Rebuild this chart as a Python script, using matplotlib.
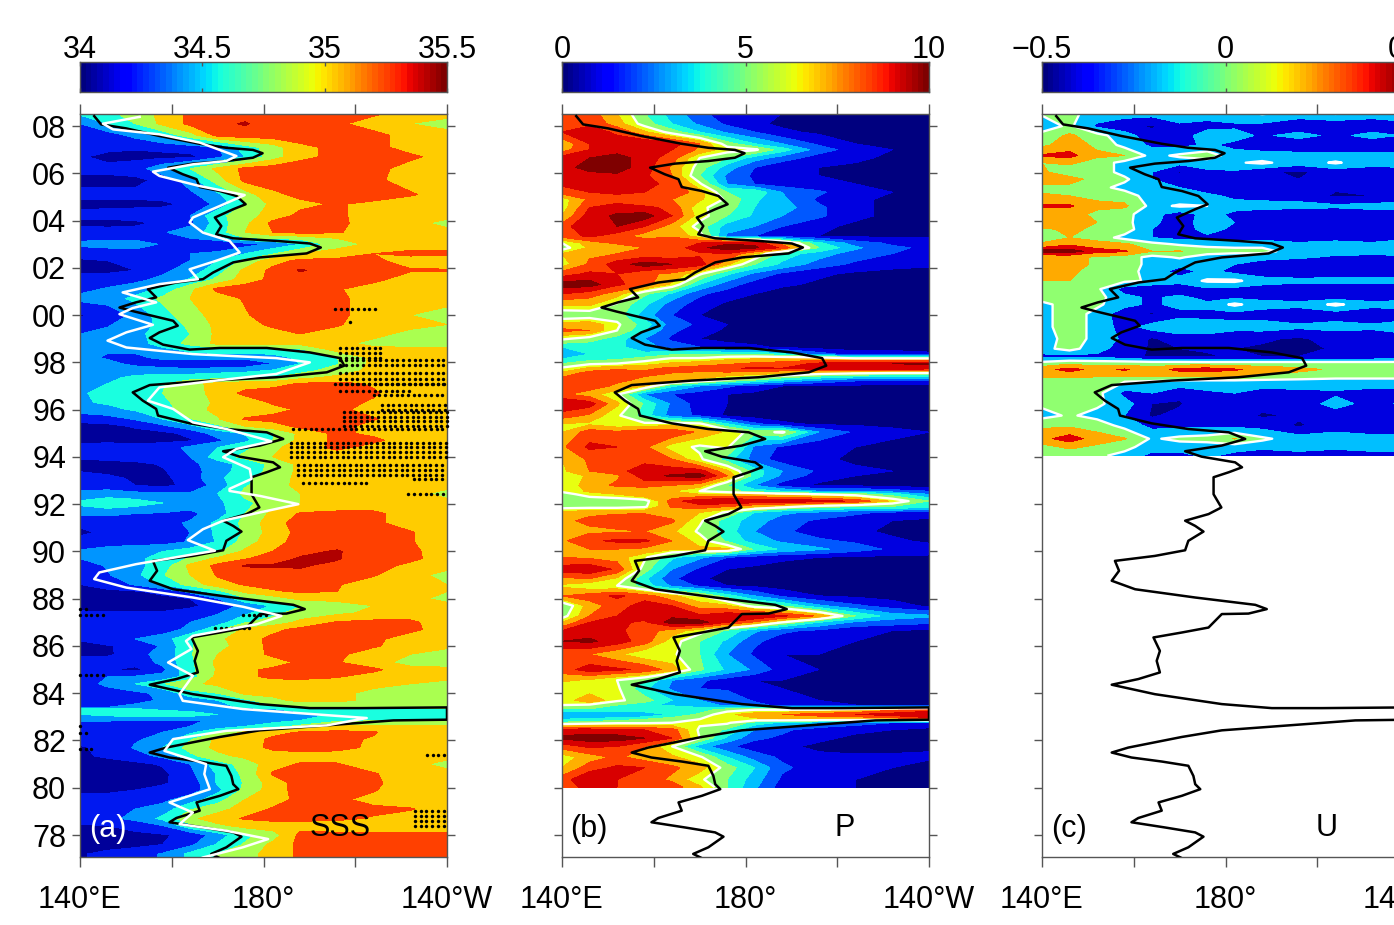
#!/usr/bin/python3
import numpy as np
import matplotlib
matplotlib.use('Agg')
import matplotlib.pyplot as plt

plt.rcParams['font.family'] = ['Liberation Sans', 'DejaVu Sans']

# longitude columns of all three fields (degrees east, 220 = 140W)
lon = [140, 146, 152, 158, 164, 170, 176, 182, 188, 196, 204, 212, 220]

# Panel (a): SSS, hundredths above 34
sss_year = [2008.55, 2008.1, 2007.6, 2007.1, 2006.7, 2006.2, 2005.7, 2005.1, 2004.7, 2004.2, 2003.9, 2003.5,
            2003.25, 2003.0, 2002.6, 2002.3, 2001.9, 2001.5, 2001.1, 2000.7, 2000.0, 1999.6, 1999.2, 1998.8,
            1998.55, 1998.2, 1997.95, 1997.65, 1997.35, 1997.1, 1996.7, 1996.3, 1996.0, 1995.6, 1995.3, 1995.0,
            1994.7, 1994.4, 1994.0, 1993.7, 1993.4, 1993.1, 1992.8, 1992.45, 1992.05, 1991.6, 1991.2, 1990.8,
            1990.4, 1990.0, 1989.7, 1989.4, 1989.0, 1988.6, 1988.3, 1988.0, 1987.7, 1987.4, 1987.0, 1986.7,
            1986.3, 1986.0, 1985.65, 1985.3, 1985.0, 1984.7, 1984.4, 1984.0, 1983.7, 1983.4, 1983.35, 1983.1,
            1982.85, 1982.6, 1982.35, 1982.05, 1981.7, 1981.35, 1981.0, 1980.6, 1980.2, 1979.9, 1979.5, 1979.1,
            1978.7, 1978.4, 1978.0, 1977.6, 1977.2, 1977.0]
sss_rows = [
    [65, 75, 90, 105, 125, 130, 130, 130, 130, 130, 125, 110, 105],
    [40, 60, 80, 105, 125, 135, 142, 130, 130, 125, 108, 100, 95],
    [25, 30, 45, 65, 90, 125, 130, 130, 130, 130, 128, 110, 105],
    [25, 25, 22, 25, 30, 38, 70, 90, 115, 125, 128, 110, 105],
    [22, 15, 15, 15, 15, 35, 60, 90, 115, 125, 130, 125, 110],
    [25, 25, 30, 55, 80, 105, 125, 130, 130, 130, 128, 110, 105],
    [15, 15, 15, 25, 50, 90, 125, 130, 130, 130, 125, 110, 105],
    [25, 25, 25, 30, 35, 55, 90, 115, 125, 130, 130, 123, 108],
    [15, 15, 15, 15, 25, 45, 80, 105, 115, 122, 115, 105, 105],
    [25, 28, 30, 35, 40, 75, 90, 110, 125, 125, 108, 105, 105],
    [15, 12, 15, 25, 35, 70, 95, 125, 128, 125, 110, 105, 95],
    [30, 30, 30, 38, 50, 70, 100, 120, 125, 122, 110, 105, 105],
    [35, 35, 35, 38, 40, 50, 78, 80, 85, 100, 105, 105, 105],
    [45, 50, 50, 38, 30, 22, 32, 45, 60, 90, 105, 110, 110],
    [25, 25, 30, 35, 40, 45, 60, 78, 100, 110, 120, 125, 125],
    [18, 20, 25, 30, 40, 60, 85, 112, 125, 125, 125, 110, 105],
    [15, 15, 20, 35, 50, 70, 105, 125, 142, 130, 125, 122, 122],
    [30, 30, 35, 45, 62, 85, 110, 125, 130, 128, 125, 110, 105],
    [35, 42, 50, 65, 95, 125, 130, 130, 128, 122, 110, 105, 105],
    [45, 50, 65, 85, 100, 110, 122, 130, 130, 125, 110, 105, 105],
    [18, 25, 45, 70, 95, 105, 118, 130, 130, 125, 110, 100, 95],
    [30, 38, 50, 65, 85, 105, 110, 125, 128, 122, 110, 105, 100],
    [40, 45, 55, 68, 80, 105, 108, 110, 120, 112, 105, 95, 90],
    [42, 45, 50, 70, 85, 105, 105, 105, 105, 105, 95, 90, 90],
    [42, 42, 45, 55, 65, 70, 72, 75, 78, 108, 105, 105, 105],
    [45, 38, 35, 45, 50, 50, 45, 50, 65, 80, 105, 105, 105],
    [45, 45, 35, 28, 22, 22, 25, 40, 60, 78, 105, 105, 105],
    [45, 50, 50, 50, 48, 52, 55, 62, 72, 90, 105, 105, 105],
    [50, 55, 65, 70, 72, 75, 78, 80, 95, 105, 105, 105, 105],
    [55, 60, 72, 78, 95, 105, 110, 112, 122, 125, 118, 105, 105],
    [58, 65, 72, 80, 90, 108, 125, 130, 130, 125, 122, 110, 105],
    [58, 62, 70, 78, 85, 105, 108, 122, 125, 125, 118, 105, 105],
    [50, 55, 62, 70, 92, 105, 108, 115, 122, 125, 112, 105, 105],
    [25, 30, 42, 60, 78, 98, 122, 125, 125, 125, 122, 105, 105],
    [15, 15, 22, 35, 55, 75, 100, 112, 125, 130, 110, 105, 105],
    [15, 15, 15, 15, 25, 50, 62, 78, 105, 125, 115, 105, 105],
    [15, 15, 15, 15, 18, 35, 55, 80, 105, 125, 125, 108, 105],
    [25, 30, 25, 30, 45, 60, 75, 95, 110, 125, 112, 105, 105],
    [22, 25, 30, 35, 40, 70, 85, 100, 108, 108, 105, 105, 105],
    [15, 15, 15, 22, 35, 50, 68, 85, 105, 105, 105, 105, 105],
    [18, 12, 12, 18, 32, 50, 70, 85, 105, 105, 105, 105, 105],
    [40, 28, 15, 15, 30, 55, 75, 90, 105, 105, 105, 105, 105],
    [30, 30, 20, 15, 25, 48, 78, 92, 105, 105, 105, 105, 105],
    [45, 48, 45, 42, 42, 60, 85, 92, 100, 105, 105, 105, 95],
    [65, 75, 70, 60, 50, 55, 75, 90, 100, 105, 105, 105, 105],
    [45, 45, 40, 38, 35, 50, 80, 105, 122, 125, 125, 110, 105],
    [25, 25, 30, 35, 42, 65, 85, 112, 128, 130, 125, 110, 105],
    [15, 25, 28, 30, 40, 65, 82, 110, 125, 130, 128, 122, 105],
    [30, 30, 30, 32, 42, 62, 88, 115, 125, 130, 130, 122, 105],
    [42, 50, 58, 60, 70, 75, 105, 120, 135, 142, 128, 125, 108],
    [40, 45, 55, 68, 82, 105, 118, 130, 142, 142, 125, 125, 110],
    [30, 42, 55, 68, 105, 125, 142, 142, 142, 135, 128, 115, 105],
    [25, 38, 55, 78, 100, 122, 128, 130, 135, 128, 122, 105, 95],
    [20, 30, 42, 62, 88, 112, 122, 125, 125, 122, 108, 105, 100],
    [15, 15, 18, 25, 45, 72, 105, 118, 122, 120, 105, 105, 100],
    [15, 12, 12, 15, 20, 40, 75, 88, 105, 105, 105, 105, 95],
    [15, 12, 12, 12, 15, 30, 45, 62, 78, 92, 100, 105, 105],
    [22, 22, 22, 22, 30, 38, 55, 75, 88, 95, 105, 105, 105],
    [25, 25, 28, 35, 40, 50, 78, 88, 105, 122, 125, 125, 105],
    [32, 35, 30, 30, 45, 75, 105, 115, 125, 130, 128, 125, 110],
    [22, 35, 40, 50, 78, 95, 112, 125, 130, 130, 125, 110, 105],
    [15, 18, 28, 42, 78, 92, 110, 125, 130, 130, 123, 108, 105],
    [15, 15, 35, 45, 78, 100, 108, 125, 128, 125, 108, 100, 90],
    [35, 35, 28, 45, 75, 105, 105, 108, 125, 122, 105, 95, 90],
    [22, 22, 15, 35, 75, 102, 115, 125, 130, 125, 125, 105, 105],
    [28, 40, 42, 45, 70, 105, 115, 125, 125, 122, 110, 105, 105],
    [30, 45, 60, 78, 95, 105, 105, 108, 112, 108, 105, 100, 95],
    [22, 30, 35, 45, 72, 80, 105, 105, 105, 105, 95, 85, 85],
    [25, 30, 35, 42, 48, 60, 75, 95, 105, 105, 95, 88, 85],
    [40, 40, 45, 48, 50, 55, 62, 72, 78, 82, 82, 85, 85],
    [60, 65, 60, 55, 50, 50, 55, 60, 70, 75, 78, 78, 78],
    [60, 65, 72, 72, 70, 60, 50, 50, 52, 62, 72, 78, 78],
    [42, 42, 40, 38, 38, 42, 48, 52, 60, 75, 78, 80, 80],
    [25, 25, 25, 32, 40, 48, 60, 72, 85, 105, 105, 105, 105],
    [25, 25, 30, 40, 55, 78, 105, 112, 122, 125, 122, 105, 105],
    [25, 30, 38, 45, 78, 105, 108, 125, 128, 125, 118, 105, 105],
    [18, 25, 42, 60, 88, 105, 110, 125, 130, 128, 115, 105, 105],
    [18, 22, 32, 45, 75, 95, 105, 108, 110, 108, 105, 105, 105],
    [15, 15, 15, 22, 40, 70, 88, 112, 122, 122, 105, 105, 95],
    [12, 12, 15, 15, 35, 62, 85, 122, 128, 128, 122, 105, 105],
    [12, 12, 15, 18, 28, 62, 82, 110, 128, 128, 125, 105, 105],
    [15, 15, 20, 25, 30, 55, 85, 110, 128, 128, 122, 105, 105],
    [30, 30, 32, 35, 50, 72, 100, 112, 125, 125, 112, 105, 105],
    [35, 38, 40, 48, 78, 92, 110, 122, 125, 125, 125, 122, 105],
    [30, 35, 45, 65, 95, 112, 122, 125, 125, 125, 118, 108, 105],
    [18, 20, 28, 40, 75, 95, 108, 112, 112, 108, 105, 105, 105],
    [12, 12, 15, 18, 25, 50, 75, 90, 125, 125, 125, 125, 125],
    [12, 12, 15, 20, 35, 62, 82, 105, 125, 125, 125, 125, 125],
    [18, 25, 30, 42, 65, 80, 95, 105, 125, 125, 125, 125, 122],
    [18, 25, 30, 42, 65, 80, 95, 105, 125, 125, 125, 125, 122],
]

# Panel (b): precipitation, tenths
p_year = [2008.55, 2008.1, 2007.75, 2007.25, 2007.0, 2006.65, 2006.25, 2005.9, 2005.55, 2005.2, 2004.9, 2004.55,
          2004.2, 2003.75, 2003.35, 2003.05, 2002.85, 2002.6, 2002.15, 2001.75, 2001.3, 2000.9, 2000.45, 2000.0,
          1999.6, 1999.35, 1999.0, 1998.65, 1998.35, 1998.15, 1997.95, 1997.75, 1997.55, 1997.25, 1997.0, 1996.65,
          1996.25, 1995.75, 1995.4, 1995.05, 1994.42, 1993.9, 1993.4, 1993.2, 1992.8, 1992.55, 1992.42, 1992.13,
          1991.9, 1991.65, 1991.3, 1990.85, 1990.45, 1990.1, 1989.75, 1989.25, 1988.85, 1988.55, 1988.12, 1987.7,
          1987.27, 1987.0, 1986.65, 1986.2, 1985.65, 1985.0, 1984.55, 1984.2, 1983.7, 1983.5, 1983.3, 1983.1,
          1982.9, 1982.75, 1982.45, 1982.1, 1981.75, 1981.3, 1980.85, 1980.35, 1980.03]
p_rows = [
    [85, 85, 70, 50, 35, 22, 15, 12, 10, 8, 8, 8, 8],
    [85, 88, 75, 55, 40, 28, 18, 12, 8, 6, 5, 5, 5],
    [90, 95, 88, 72, 55, 40, 28, 20, 12, 8, 6, 6, 6],
    [72, 90, 95, 100, 95, 80, 55, 40, 30, 18, 10, 8, 8],
    [75, 90, 95, 98, 90, 78, 65, 62, 45, 25, 15, 10, 8],
    [95, 100, 105, 95, 85, 60, 50, 35, 25, 15, 12, 8, 5],
    [95, 105, 105, 95, 78, 55, 35, 20, 12, 10, 8, 5, 5],
    [95, 95, 98, 92, 80, 50, 28, 18, 12, 10, 5, 5, 5],
    [92, 95, 95, 92, 88, 62, 30, 20, 15, 12, 10, 10, 10],
    [85, 90, 92, 90, 88, 75, 50, 48, 30, 22, 12, 10, 10],
    [65, 82, 85, 82, 80, 72, 58, 42, 32, 18, 12, 8, 5],
    [65, 90, 95, 92, 88, 62, 55, 40, 35, 22, 12, 8, 5],
    [70, 95, 102, 105, 90, 65, 50, 38, 30, 22, 12, 8, 6],
    [85, 100, 100, 90, 75, 55, 35, 30, 20, 12, 8, 5, 5],
    [85, 92, 85, 75, 78, 65, 28, 20, 15, 10, 8, 8, 8],
    [60, 75, 82, 88, 90, 90, 98, 98, 75, 42, 25, 18, 15],
    [55, 72, 72, 80, 82, 98, 105, 102, 88, 50, 32, 22, 18],
    [70, 78, 80, 82, 82, 88, 90, 70, 45, 35, 25, 20, 15],
    [65, 82, 95, 105, 100, 95, 72, 50, 38, 25, 18, 15, 12],
    [85, 92, 90, 82, 78, 62, 42, 28, 18, 12, 8, 5, 5],
    [105, 105, 92, 85, 68, 40, 25, 15, 12, 8, 5, 4, 4],
    [90, 85, 75, 52, 38, 22, 15, 10, 5, 5, 5, 5, 5],
    [72, 72, 58, 42, 25, 15, 8, 8, 6, 6, 6, 6, 6],
    [50, 52, 55, 35, 20, 10, 6, 4, 5, 5, 5, 4, 4],
    [75, 78, 62, 45, 25, 18, 10, 8, 8, 8, 5, 5, 5],
    [82, 80, 60, 40, 22, 15, 8, 6, 5, 5, 5, 5, 5],
    [62, 55, 45, 30, 18, 10, 6, 5, 5, 5, 5, 5, 5],
    [40, 42, 42, 35, 25, 20, 15, 12, 8, 5, 5, 5, 5],
    [40, 40, 42, 42, 48, 50, 50, 50, 42, 25, 15, 15, 12],
    [40, 45, 48, 55, 62, 62, 68, 70, 72, 75, 65, 65, 65],
    [50, 58, 60, 65, 72, 75, 78, 82, 85, 92, 98, 100, 102],
    [62, 72, 78, 78, 82, 85, 88, 92, 90, 98, 98, 98, 95],
    [72, 85, 85, 82, 80, 78, 78, 75, 72, 65, 62, 60, 60],
    [85, 90, 82, 78, 75, 68, 58, 50, 40, 30, 22, 20, 20],
    [90, 85, 78, 70, 42, 30, 22, 15, 10, 8, 8, 5, 5],
    [82, 75, 62, 30, 20, 15, 10, 8, 8, 6, 6, 6, 6],
    [100, 95, 72, 48, 28, 15, 10, 8, 8, 8, 8, 8, 8],
    [85, 78, 62, 45, 25, 18, 8, 5, 5, 5, 5, 5, 5],
    [70, 68, 62, 62, 65, 62, 40, 22, 12, 8, 8, 8, 8],
    [70, 85, 82, 88, 88, 78, 68, 55, 62, 30, 18, 12, 10],
    [78, 92, 90, 82, 65, 58, 62, 28, 18, 12, 10, 8, 8],
    [70, 82, 88, 85, 80, 62, 45, 25, 15, 12, 8, 5, 5],
    [68, 80, 85, 98, 95, 95, 72, 45, 30, 18, 12, 10, 10],
    [62, 72, 78, 95, 102, 105, 80, 45, 28, 15, 10, 8, 8],
    [62, 75, 82, 85, 80, 75, 50, 30, 15, 8, 8, 5, 5],
    [62, 72, 72, 70, 70, 60, 55, 45, 40, 30, 30, 25, 20],
    [55, 65, 70, 80, 72, 70, 70, 70, 65, 60, 55, 45, 30],
    [50, 52, 52, 55, 85, 98, 100, 98, 98, 95, 88, 68, 50],
    [55, 55, 55, 58, 82, 85, 80, 72, 65, 55, 50, 50, 45],
    [72, 78, 78, 78, 72, 70, 58, 40, 32, 28, 22, 18, 15],
    [78, 82, 88, 90, 82, 62, 45, 35, 25, 18, 15, 10, 8],
    [78, 78, 78, 80, 72, 58, 45, 30, 22, 15, 12, 8, 5],
    [78, 88, 92, 92, 80, 65, 48, 35, 28, 22, 18, 12, 8],
    [78, 80, 80, 78, 72, 72, 72, 48, 38, 32, 25, 18, 15],
    [80, 78, 75, 62, 42, 32, 20, 15, 12, 10, 8, 8, 8],
    [95, 98, 88, 55, 30, 18, 10, 8, 6, 6, 6, 6, 6],
    [78, 80, 68, 42, 22, 12, 6, 5, 5, 5, 5, 5, 5],
    [68, 62, 60, 45, 28, 18, 10, 8, 5, 5, 5, 5, 5],
    [80, 85, 92, 85, 72, 62, 45, 30, 18, 10, 8, 6, 5],
    [50, 75, 85, 95, 90, 75, 72, 55, 50, 32, 22, 15, 8],
    [55, 80, 90, 95, 98, 92, 98, 100, 92, 78, 50, 35, 32],
    [70, 90, 92, 88, 105, 105, 90, 78, 60, 40, 28, 25, 22],
    [90, 95, 92, 85, 75, 65, 48, 32, 22, 18, 12, 10, 8],
    [100, 102, 95, 85, 65, 50, 38, 22, 15, 12, 10, 8, 5],
    [82, 80, 72, 62, 62, 50, 30, 18, 10, 10, 8, 5, 5],
    [85, 95, 92, 88, 75, 52, 38, 28, 15, 10, 8, 8, 8],
    [72, 68, 60, 50, 30, 22, 15, 10, 10, 10, 10, 10, 10],
    [62, 62, 62, 42, 28, 20, 18, 15, 10, 8, 8, 8, 8],
    [62, 80, 62, 55, 40, 30, 30, 18, 12, 10, 8, 8, 8],
    [60, 58, 50, 42, 38, 35, 28, 25, 15, 12, 10, 8, 8],
    [48, 48, 45, 48, 50, 45, 55, 60, 60, 62, 68, 78, 85],
    [30, 30, 30, 30, 42, 52, 68, 75, 80, 85, 90, 95, 100],
    [40, 42, 45, 50, 55, 60, 65, 68, 70, 70, 70, 72, 85],
    [52, 55, 58, 58, 60, 62, 62, 45, 38, 30, 25, 20, 15],
    [95, 95, 92, 90, 85, 58, 48, 30, 22, 15, 12, 10, 8],
    [102, 105, 105, 100, 90, 60, 38, 22, 18, 12, 8, 8, 8],
    [85, 92, 90, 80, 60, 35, 22, 15, 12, 8, 5, 6, 8],
    [65, 75, 82, 75, 72, 62, 40, 25, 18, 12, 12, 12, 12],
    [70, 85, 92, 90, 82, 75, 55, 40, 22, 15, 12, 10, 5],
    [85, 100, 90, 85, 78, 62, 50, 35, 18, 12, 10, 10, 10],
    [82, 95, 90, 88, 85, 72, 50, 32, 15, 12, 10, 10, 10],
]

# Panel (c): zonal current, hundredths
u_year = [2008.55, 2008.0, 2007.6, 2007.2, 2006.75, 2006.45, 2006.05, 2005.75, 2005.4, 2005.05, 2004.62, 2004.27,
          2003.92, 2003.63, 2003.28, 2003.0, 2002.7, 2002.45, 2002.15, 2001.85, 2001.45, 2001.1, 2000.75, 2000.45,
          2000.05, 1999.5, 1999.0, 1998.58, 1998.25, 1998.0, 1997.7, 1997.45, 1997.18, 1996.7, 1996.25, 1995.75,
          1995.33, 1994.77, 1994.42, 1994.05]
u_rows = [
    [2, 3, -5, -8, -8, -5, -8, -5, 2, -5, 2, -5, -5],
    [-8, 3, -18, -25, -32, -18, -20, -18, -20, -28, -28, -28, -20],
    [5, 18, 5, -8, -25, -22, -8, -8, -18, -8, -20, -8, -18],
    [12, 22, 12, -5, -18, -20, -12, -20, -22, -30, -25, -30, -25],
    [32, 35, 18, 15, -5, 3, 8, -8, -10, -8, -10, -10, -10],
    [15, 18, 8, -5, -10, -10, -8, -2, 3, -8, 2, -10, -10],
    [18, 5, 8, -5, -15, -32, -18, -18, -28, -32, -25, -22, -20],
    [28, 22, 8, 3, -15, -20, -18, -18, -18, -30, -18, -18, -18],
    [8, 10, 5, -5, -10, -15, -22, -18, -20, -20, -28, -20, -20],
    [18, 15, 12, 8, -8, -12, -12, -18, -20, -22, -32, -30, -25],
    [32, 32, 18, 18, -5, 2, 0, -10, -10, -10, -12, -10, -8],
    [18, 20, 12, 5, -10, -22, -10, -18, -22, -25, -25, -22, -22],
    [30, 22, 15, 5, -12, -22, -8, -15, -20, -25, -25, -28, -25],
    [12, 18, 12, 8, -15, -22, -10, -18, -18, -22, -20, -22, -22],
    [5, 15, 8, -5, -15, -20, -18, -22, -22, -28, -20, -28, -18],
    [18, 28, 22, 18, 5, -2, -5, -5, -5, -10, -10, -10, -5],
    [45, 45, 35, 32, 15, 16, 8, 5, 5, -8, -8, -8, -8],
    [20, 22, 12, 8, -5, 2, -8, -10, -10, -12, -18, -20, -18],
    [18, 22, 12, 8, -5, -10, -10, -15, -22, -28, -22, -25, -28],
    [30, 20, 5, 5, -5, -22, -10, -20, -25, -28, -25, -25, -25],
    [15, 15, 8, 3, -2, -8, 2, 3, -8, -10, -10, -10, -10],
    [5, 8, 3, -22, -28, -28, -18, -20, -22, -28, -28, -28, -25],
    [8, 12, 5, -10, -18, -10, -22, -18, -20, -22, -22, -22, -20],
    [-5, 8, 3, -10, -18, -10, -10, 3, -8, -10, 3, -10, -8],
    [-5, 8, -5, -25, -32, -20, -20, -20, -22, -25, -22, -25, -22],
    [-5, 8, -5, -22, -8, -5, -8, -10, -8, -12, -10, -12, -8],
    [-10, 8, -5, -18, -32, -22, -20, -25, -28, -32, -25, -25, -20],
    [-5, 6, -10, -22, -32, -30, -28, -30, -32, -35, -28, -25, -12],
    [-20, -20, -18, -25, -32, -32, -32, -28, -30, -30, -28, -28, -22],
    [2, 8, 5, 5, 3, 3, 2, 2, 2, 2, 2, 2, 2],
    [25, 35, 25, 32, 22, 35, 38, 32, 25, 20, 12, 8, 8],
    [20, 22, 18, 20, 18, 18, 18, 18, 12, 8, 5, 5, 5],
    [3, 5, 5, 0, -2, -5, -5, -5, -5, -5, -5, -5, -5],
    [8, 6, 5, -20, -15, -25, -18, -15, -22, -20, -18, -22, -22],
    [3, 5, 3, -8, -30, -32, -15, -20, -25, -25, -8, -22, -10],
    [-5, 2, -5, -15, -32, -25, -22, -22, -32, -28, -25, -28, -28],
    [12, 12, 8, -5, -20, -20, -18, -20, -22, -32, -22, -30, -30],
    [25, 38, 22, 16, -2, 4, 6, 16, 3, -8, -8, -8, -8],
    [10, 18, 12, 5, -8, -8, -8, -8, -10, -10, -10, -10, -10],
    [10, 5, 3, -5, -20, -20, -12, -20, -28, -20, -28, -20, -20],
]

# Black line, same in all panels
black_year = [2008.42, 2008.07, 2007.9, 2007.58, 2007.25, 2007.08, 2006.99, 2006.85, 2006.66, 2006.52, 2006.41, 2006.24,
              2005.96, 2005.75, 2005.42, 2005.25, 2005.04, 2004.69, 2004.48, 2004.13, 2003.77, 2003.42, 2003.25, 2003.14,
              2003.03, 2002.86, 2002.61, 2002.44, 2002.23, 2001.8, 2001.52, 2001.38, 2001.1, 2000.75, 2000.54, 2000.32,
              2000.15, 1999.76, 1999.55, 1999.27, 1999.03, 1998.75, 1998.54, 1998.61, 1998.61, 1998.42, 1998.18, 1997.86,
              1997.58, 1997.37, 1997.23, 1997.04, 1996.73, 1996.38, 1996.03, 1995.75, 1995.42, 1995.18, 1995.04, 1994.76,
              1994.48, 1994.24, 1994.01, 1993.77, 1993.56, 1993.35, 1993.14, 1992.42, 1991.86, 1991.58, 1991.3, 1991.08,
              1990.84, 1990.45, 1990.05, 1989.81, 1989.6, 1989.18, 1988.76, 1988.4, 1988.05, 1987.74, 1987.56, 1987.37,
              1987.35, 1986.78, 1986.57, 1986.36, 1985.79, 1985.37, 1984.88, 1984.6, 1984.36, 1983.96, 1983.54, 1983.37,
              1983.37, 1983.4, 1982.88, 1982.85, 1982.64, 1982.43, 1982.15, 1981.7, 1981.49, 1981.28, 1981.11, 1980.93,
              1980.5, 1980.15, 1979.94, 1979.66, 1979.38, 1979.03, 1978.72, 1978.54, 1978.32, 1978.11, 1977.93, 1977.48,
              1977.2, 1977.02]
black_lon = [143.1, 144.6, 150.1, 157.3, 166.1, 171.9, 177.7, 179.8, 177.7, 171.9, 164.6, 159.2,
             162.4, 165.4, 166.1, 170.5, 174.1, 176.1, 173.4, 169.4, 170.8, 169.7, 173.4, 182.8,
             190.1, 192.5, 189.4, 179.2, 173.4, 169.0, 166.8, 161.0, 154.8, 156.6, 152.2, 148.6,
             151.9, 160.3, 161.3, 157.3, 155.2, 158.1, 163.9, 170.5, 180.7, 190.1, 196.7, 197.6,
             193.8, 182.8, 168.3, 155.2, 151.5, 153.7, 156.6, 157.0, 163.9, 171.9, 180.7, 184.3,
             179.2, 171.2, 174.8, 182.1, 183.6, 180.7, 177.4, 177.4, 179.1, 176.3, 171.2, 173.4,
             175.2, 171.9, 171.2, 164.6, 155.9, 156.8, 155.2, 160.3, 173.4, 186.5, 189.0, 185.0,
             179.2, 176.3, 170.5, 164.3, 165.7, 165.0, 165.7, 161.0, 155.2, 164.6, 179.2, 190.1,
             201.0, 220.0, 220.0, 208.3, 193.8, 179.2, 170.5, 158.8, 155.2, 159.5, 166.1, 171.9,
             173.0, 173.4, 174.5, 170.5, 165.4, 166.1, 161.0, 159.5, 166.8, 173.4, 175.2, 171.9,
             168.6, 170.5]

# White line, panel (a) only
white_year = [2008.39, 2008.1, 2007.86, 2007.65, 2007.3, 2006.73, 2006.52, 2006.38, 2006.07, 2005.89, 2005.46, 2005.08,
              2004.62, 2004.13, 2003.92, 2003.49, 2003.14, 2002.65, 2002.3, 2001.94, 2001.52, 2001.31, 2000.96, 2000.54,
              2000.3, 2000.04, 1999.59, 1999.27, 1998.92, 1998.63, 1998.35, 1998.18, 1998.0, 1997.51, 1997.25, 1996.94,
              1996.38, 1996.03, 1995.46, 1995.18, 1994.66, 1994.34, 1993.99, 1993.49, 1993.07, 1992.65, 1992.56, 1992.35,
              1992.0, 1991.65, 1991.3, 1990.94, 1990.48, 1990.03, 1989.78, 1989.46, 1989.11, 1988.83, 1988.47, 1988.05,
              1987.66, 1987.27, 1986.92, 1986.43, 1986.21, 1985.87, 1985.3, 1984.74, 1983.96, 1983.68, 1983.33, 1982.95,
              1982.64, 1982.41, 1982.06, 1981.56, 1981.0, 1980.58, 1979.94, 1979.38, 1978.95, 1978.46, 1978.18, 1977.83,
              1977.48, 1977.05]
white_lon = [153.0, 145.0, 147.2, 157.3, 166.1, 174.1, 171.9, 164.6, 155.9, 157.3, 166.1, 175.9,
             170.5, 164.6, 163.9, 166.8, 172.6, 174.8, 169.7, 163.9, 165.7, 157.3, 149.3, 156.6,
             151.5, 148.6, 155.9, 150.1, 146.0, 150.1, 164.6, 182.8, 190.1, 182.8, 170.5, 157.3,
             154.8, 160.3, 164.6, 171.9, 181.7, 174.1, 171.2, 177.0, 177.4, 172.6, 172.6, 179.2,
             187.6, 179.2, 171.2, 166.8, 163.5, 169.4, 161.7, 152.2, 144.2, 143.1, 150.1, 164.6,
             175.5, 183.9, 178.5, 164.6, 163.1, 164.3, 159.2, 164.6, 161.7, 162.4, 175.5, 202.5,
             193.8, 171.9, 160.3, 158.4, 167.5, 167.1, 168.3, 159.5, 164.6, 161.7, 171.9, 181.0,
             175.5, 166.8]

# Stippled areas of panel (a): year range and longitude range of each patch
dot_year_hi = [2000.25, 1999.7, 1998.65, 1998.1, 1997.7, 1997.45, 1997.1, 1996.8, 1996.6, 1996.3, 1995.95, 1995.2, 1994.7,
               1993.8, 1992.9, 1993.05, 1992.45, 1987.55, 1987.4, 1987.4, 1986.78, 1984.77, 1982.62, 1982.3, 1981.75,
               1981.39, 1979.0]
dot_year_lo = [2000.25, 1999.7, 1998.2, 1997.9, 1997.55, 1997.1, 1997.1, 1996.8, 1996.6, 1996.0, 1995.3, 1995.2, 1994.0,
               1993.25, 1992.9, 1993.05, 1992.45, 1987.55, 1987.3, 1987.3, 1986.78, 1984.77, 1982.62, 1982.3, 1981.65,
               1981.39, 1978.4]
dot_lon_w = [195.6, 198.9, 196.7, 196.7, 196.7, 196.7, 195.6, 196.7, 204.0, 205.8, 197.5, 186.5, 186.0,
             187.6, 188.7, 212.7, 211.6, 140.0, 140.0, 175.5, 169.4, 140.0, 140.0, 140.0, 140.0,
             215.6, 213.0]
dot_lon_e = [205.0, 198.9, 206.2, 220.0, 220.0, 220.0, 220.0, 212.7, 220.0, 220.0, 220.0, 220.0, 220.0,
             220.0, 203.0, 220.0, 220.0, 141.5, 145.0, 180.6, 177.0, 145.3, 141.0, 142.2, 143.3,
             220.0, 220.0]

# Contour bands and colours
sss_levels = [0, 20, 40, 60, 80, 100, 120, 140, 160]
sss_colors = ['#00009A', '#0018F0', '#0095FF', '#1AFFE0', '#AAFF50', '#FFCC00', '#FF4000', '#B00000']
p_levels = [0, 10, 20, 30, 40, 50, 60, 70, 80, 90, 100, 110]
p_colors = ['#00007F', '#0000E0', '#0058FF', '#00C0FF', '#20FFD8', '#90FF70', '#E8FF10', '#FFB000', '#FF4000',
            '#D80000', '#7F0000']
u_levels = [-50, -30, -15, 0, 15, 30, 40, 50]
u_colors = ['#00007F', '#0000E0', '#00BFFF', '#90FF70', '#FFAA00', '#E00000', '#7F0000']

W, H = 1394.0, 925.0
fig = plt.figure(figsize=(W/100, H/100), dpi=100)
fs = 22
spine = '#555555'


def make_axes(x0, x1, y0, y1):
    return fig.add_axes([x0/W, 1-y1/H, (x1-x0)/W, (y1-y0)/H], clip_on=False)


def panel(x0, field, years, levels, colors, white_level=None):
    ax = make_axes(x0, x0+367, 114, 857)
    yy = np.array(years)
    order = np.argsort(yy)
    zz = np.array(field, dtype=float)[order]
    ax.contourf(lon, yy[order], zz, levels=levels, colors=colors)
    if white_level is not None:
        ax.contour(lon, yy[order], zz, levels=[white_level], colors='white', linewidths=1.7)
    ax.set_xlim(140, 220)
    ax.set_ylim(1977.07, 2008.51)
    ax.set_xticks([140, 160, 180, 200, 220])
    ax.set_xticklabels(['140°E', '', '180°', '', '140°W'], fontsize=fs)
    ax.set_yticks(np.arange(1978, 2009, 2))
    ax.tick_params(axis='x', length=7, width=1, color=spine, top=True, pad=13)
    ax.tick_params(axis='y', length=6, width=1, color=spine, right=True, pad=4)
    for s in ax.spines.values():
        s.set_color(spine)
        s.set_linewidth(1)
    return ax


def cbar(x0, ticks, labels):
    ax = make_axes(x0, x0+367, 62, 92)
    ax.imshow(np.linspace(0, 1, 64)[None, :], aspect='auto', cmap='jet', extent=[0, 1, 0, 1])
    ax.set_xlim(0, 1)
    ax.set_yticks([])
    ax.set_xticks(ticks)
    ax.set_xticklabels(labels, fontsize=fs)
    ax.tick_params(axis='x', direction='in', length=3, width=1, color=spine, top=True, bottom=True,
                   labeltop=True, labelbottom=False, pad=-2)
    for s in ax.spines.values():
        s.set_color(spine)
        s.set_linewidth(1)


# Panel (a)
ax1 = panel(80, sss_rows, sss_year, sss_levels, sss_colors)
ax1.set_yticklabels(['%02d' % (int(y) % 100) for y in np.arange(1978, 2009, 2)], fontsize=fs)
for hi, lo, w, e in zip(dot_year_hi, dot_year_lo, dot_lon_w, dot_lon_e):
    rows = np.arange(lo, hi+0.01, 0.2)
    cols = np.arange(w, e+0.01, 1.25)
    xd, yd = np.meshgrid(cols, rows)
    ax1.scatter(xd.ravel(), yd.ravel(), s=6, marker='o', c='black', linewidths=0, clip_on=False, zorder=4)
ax1.plot(black_lon, black_year, color='black', lw=1.8, zorder=5)
ax1.plot(white_lon, white_year, color='white', lw=1.8, zorder=6)
ax1.text(146.1, 1978.27, '(a)', color='white', fontsize=fs, ha='center', va='center', zorder=7)
ax1.text(196.7, 1978.3, 'SSS', color='black', fontsize=fs, ha='center', va='center', zorder=7)

# Panel (b)
ax2 = panel(562, p_rows, p_year, p_levels, p_colors, white_level=60)
ax2.set_yticklabels([])
ax2.plot(black_lon, black_year, color='black', lw=1.8, zorder=5)
ax2.text(145.8, 1978.27, '(b)', color='black', fontsize=fs, ha='center', va='center')
ax2.text(201.5, 1978.3, 'P', color='black', fontsize=fs, ha='center', va='center')

# Panel (c), runs off the right edge of the figure
ax3 = panel(1042, u_rows, u_year, u_levels, u_colors, white_level=0)
ax3.set_yticklabels([])
ax3.plot(black_lon, black_year, color='black', lw=1.8, zorder=5)
ax3.text(145.8, 1978.27, '(c)', color='black', fontsize=fs, ha='center', va='center')
ax3.text(202, 1978.3, 'U', color='black', fontsize=fs, ha='center', va='center')

# Colour bars
cbar(80, [0, 1/3, 2/3, 1], ['34', '34.5', '35', '35.5'])
cbar(562, [0, 0.5, 1], ['0', '5', '10'])
cbar(1042, [0, 0.5, 1], ['\u22120.5', '0', '0.5'])

fig.savefig('out.png', dpi=100)
